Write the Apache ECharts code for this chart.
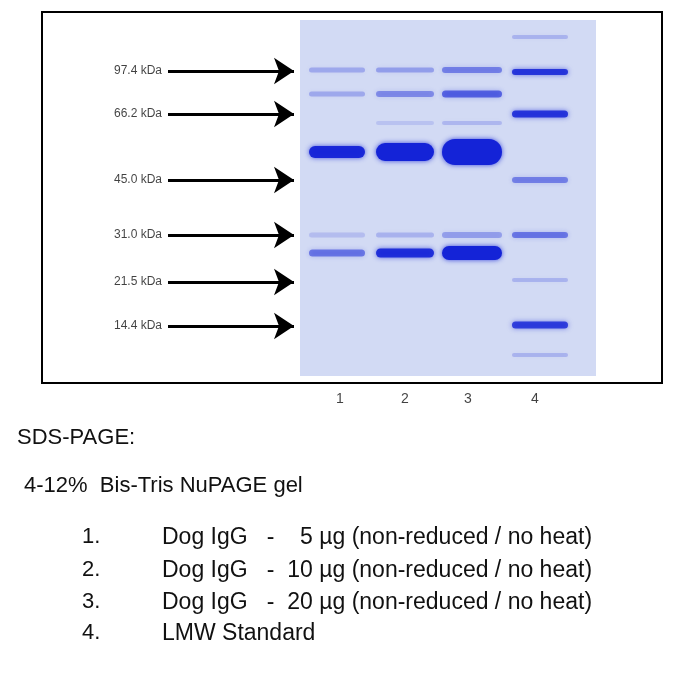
<!DOCTYPE html>
<html>
<head>
<meta charset="utf-8">
<script src="https://cdn.jsdelivr.net/npm/echarts@6/dist/echarts.min.js"></script>
<style>html,body{margin:0;padding:0;background:#fff}#main{width:700px;height:700px}</style>
</head>
<body>
<div id="main"></div>
<script>
// marker names and their row (px in the photo)
var markerNames = ['97.4 kDa', '66.2 kDa', '45.0 kDa', '31.0 kDa', '21.5 kDa', '14.4 kDa'];
var markerRows = [71, 114, 180, 235, 282, 326];
var laneNames = ['1', '2', '3', '4'];
var laneCenters = [337, 405, 472, 540];
var laneWidths = [56, 58, 60, 56];
// bands: [lane index, row, thickness, intensity]
var bands = [
    [0, 70, 5, 0.25], [0, 94, 5, 0.25], [0, 152, 12, 0.95], [0, 235, 5, 0.15], [0, 253, 7, 0.5],
    [1, 70, 5, 0.3], [1, 94, 6, 0.4], [1, 123, 4, 0.12], [1, 152, 18, 1.0], [1, 235, 5, 0.2], [1, 253, 9, 0.9],
    [2, 70, 6, 0.45], [2, 94, 7, 0.6], [2, 123, 4, 0.18], [2, 152, 26, 1.0], [2, 235, 6, 0.3], [2, 253, 14, 1.0],
    [3, 37, 4, 0.2], [3, 72, 6, 0.85], [3, 114, 7, 0.85], [3, 180, 6, 0.45], [3, 235, 6, 0.5],
    [3, 280, 4, 0.2], [3, 325, 7, 0.8], [3, 355, 4, 0.2]
];
var lineTexts = ['1.', '2.', '3.', '4.'];
var sampleTexts = ['Dog IgG   -    5 µg (non-reduced / no heat)', 'Dog IgG   -  10 µg (non-reduced / no heat)',
    'Dog IgG   -  20 µg (non-reduced / no heat)', 'LMW Standard'];

var myChart = echarts.init(document.getElementById('main'));
var font = '"Liberation Sans", Arial, sans-serif';

var graphics = [
    {type: 'rect', shape: {x: 42, y: 12, width: 620, height: 371}, style: {fill: 'none', stroke: '#000', lineWidth: 2}, z: 10},
    {type: 'text', left: 17, top: 427, style: {text: 'SDS-PAGE:', font: '22px ' + font, fill: '#111'}},
    {type: 'text', left: 24, top: 475, style: {text: '4-12%  Bis-Tris NuPAGE gel', font: '22px ' + font, fill: '#111'}}
];
var listRows = [526, 559, 591, 622];
lineTexts.forEach(function (t, i) {
    graphics.push({type: 'text', left: 82, top: listRows[i], style: {text: t, font: '22px ' + font, fill: '#111'}});
    graphics.push({type: 'text', left: 162, top: listRows[i], style: {text: sampleTexts[i], font: '23px ' + font, fill: '#111'}});
});

option = {
    animation: false,
    grid: {left: 0, right: 0, top: 0, bottom: 0},
    xAxis: {type: 'value', min: 0, max: 700, show: false},
    yAxis: {type: 'value', min: 0, max: 700, inverse: true, show: false},
    graphic: graphics,
    series: [
        {
            // gel background
            type: 'custom',
            renderItem: function (params, api) {
                var p0 = api.coord([300, 20]), p1 = api.coord([596, 376]);
                return {type: 'rect', shape: {x: p0[0], y: p0[1], width: p1[0] - p0[0], height: p1[1] - p0[1]},
                    style: {fill: '#d2daf4'}};
            },
            data: [[0]]
        },
        {
            type: 'custom',
            renderItem: function (params, api) {
                var lane = api.value(0);
                var c = api.coord([laneCenters[lane], api.value(1)]);
                var w = api.size([laneWidths[lane], 0])[0];
                var h = api.size([0, api.value(2)])[1];
                var a = api.value(3);
                return {type: 'rect', shape: {x: c[0] - w / 2, y: c[1] - h / 2, width: w, height: h, r: h / 2},
                    style: {fill: 'rgba(20,35,215,' + a + ')', shadowBlur: 5, shadowColor: 'rgba(20,35,215,' + a * 0.8 + ')'}};
            },
            data: bands
        },
        {
            type: 'lines',
            coordinateSystem: 'cartesian2d',
            symbol: ['none', 'arrow'],
            symbolSize: [14, 20],
            lineStyle: {color: '#000', width: 3, opacity: 1},
            data: markerRows.map(function (r) { return {coords: [[168, r], [294, r]]}; })
        },
        {
            type: 'scatter',
            symbolSize: 0,
            label: {show: true, position: 'left', distance: 0, color: '#111', fontSize: 12, fontFamily: font,
                formatter: function (p) { return p.data[2]; }},
            data: markerNames.map(function (n, i) { return [162, markerRows[i], n]; })
        },
        {
            type: 'scatter',
            symbolSize: 0,
            label: {show: true, position: 'inside', color: '#111', fontSize: 14, fontFamily: font,
                formatter: function (p) { return p.data[2]; }},
            data: laneNames.map(function (n, i) { return [[340, 405, 468, 535][i], 399, n]; })
        }
    ]
};

myChart.setOption(option);
</script>
</body>
</html>
